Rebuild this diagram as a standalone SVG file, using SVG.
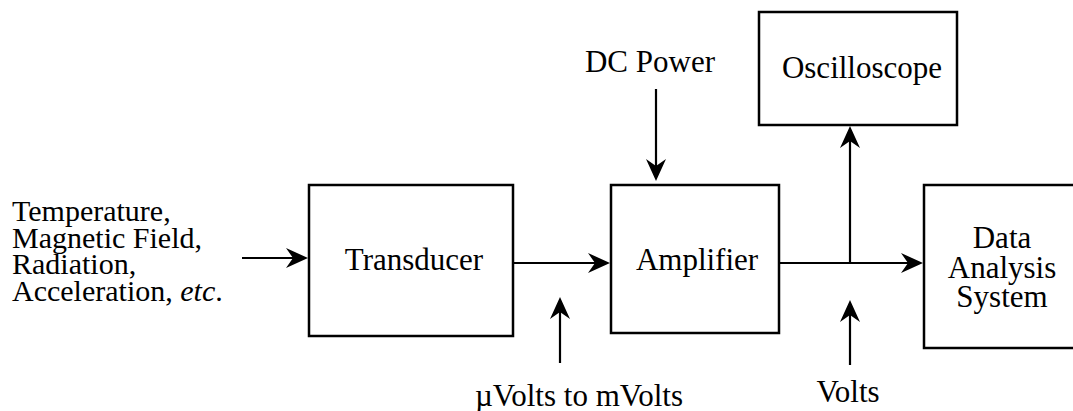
<svg xmlns="http://www.w3.org/2000/svg" width="1073" height="411" viewBox="0 0 1073 411">
<style>
.box{fill:#fff;stroke:#000;stroke-width:2.5}
.w{stroke:#000;stroke-width:2.2;fill:none}
</style>
<defs>
<marker id="ah" viewBox="-24 -12 26 24" refX="-8" refY="0" markerWidth="26" markerHeight="24" markerUnits="userSpaceOnUse" orient="auto">
<path d="M0,0 L-22,-10 L-15,0 L-22,10 Z" fill="#000"/>
</marker>
</defs>
<rect width="1073" height="411" fill="#fff"/>
<g id="connectors">
<line class="w" x1="242" y1="258" x2="300" y2="258" marker-end="url(#ah)"/>
<line class="w" x1="513" y1="263" x2="602" y2="263" marker-end="url(#ah)"/>
<line class="w" x1="656" y1="89" x2="656" y2="173" marker-end="url(#ah)"/>
<line class="w" x1="560" y1="363" x2="560" y2="305" marker-end="url(#ah)"/>
<line class="w" x1="779" y1="263" x2="915" y2="263" marker-end="url(#ah)"/>
<line class="w" x1="850" y1="263" x2="850" y2="134" marker-end="url(#ah)"/>
<line class="w" x1="850" y1="365" x2="850" y2="308" marker-end="url(#ah)"/>
</g>
<g id="inputs">
<text x="12" y="221" font-family="Times New Roman" font-size="30">Temperature,</text>
<text x="12" y="248" font-family="Times New Roman" font-size="30">Magnetic Field,</text>
<text x="12" y="274" font-family="Times New Roman" font-size="30">Radiation,</text>
<text x="12" y="301" font-family="Times New Roman" font-size="30">Acceleration, <tspan font-style="italic">etc</tspan>.</text>
</g>
<g id="transducer">
<rect class="box" x="309" y="185" width="204" height="151"/>
<text x="414" y="270" font-family="Times New Roman" font-size="31" text-anchor="middle">Transducer</text>
</g>
<g id="amplifier">
<rect class="box" x="611" y="185" width="168" height="148"/>
<text x="697" y="270" font-family="Times New Roman" font-size="31" text-anchor="middle">Amplifier</text>
</g>
<g id="oscilloscope">
<rect class="box" x="759" y="12" width="198" height="113"/>
<text x="862" y="78" font-family="Times New Roman" font-size="31" text-anchor="middle">Oscilloscope</text>
</g>
<g id="data-analysis">
<rect class="box" x="924" y="185" width="160" height="163"/>
<text x="1002" y="248" font-family="Times New Roman" font-size="31" text-anchor="middle">Data</text>
<text x="1002" y="278" font-family="Times New Roman" font-size="31" text-anchor="middle">Analysis</text>
<text x="1002" y="307" font-family="Times New Roman" font-size="31" text-anchor="middle">System</text>
</g>
<g id="labels">
<text x="650" y="72" font-family="Times New Roman" font-size="31" text-anchor="middle">DC Power</text>
<text x="475" y="406" font-family="Times New Roman" font-size="31">&#181;Volts to mVolts</text>
<text x="848" y="402" font-family="Times New Roman" font-size="31" text-anchor="middle">Volts</text>
</g>
</svg>
